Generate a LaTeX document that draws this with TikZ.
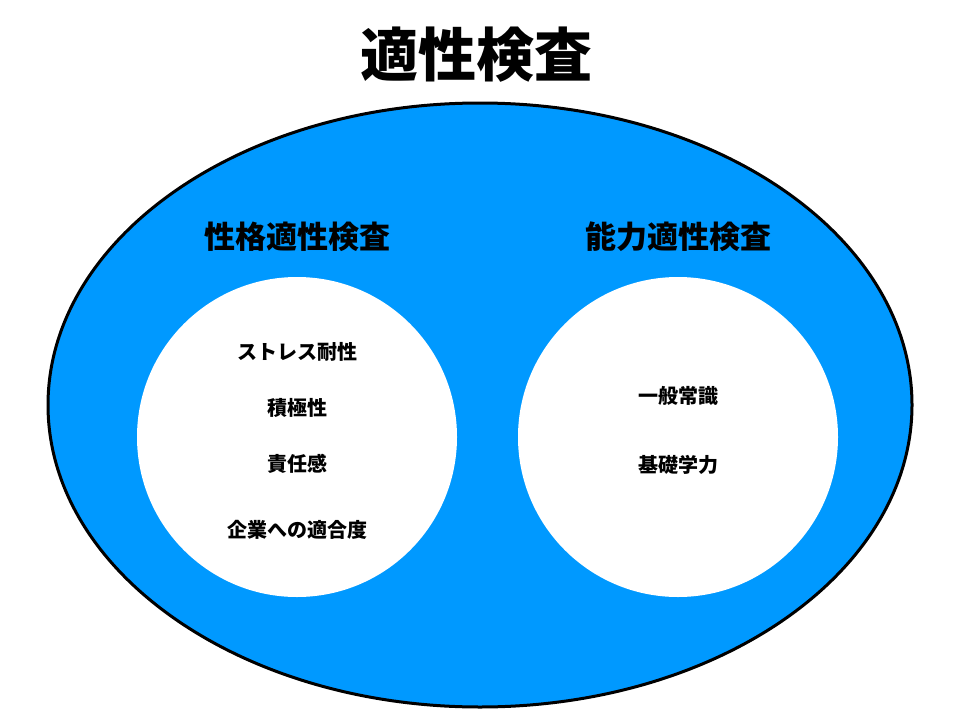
\documentclass[tikz,border=0pt]{standalone}
\usepackage{fontspec}
\newfontfamily\cjk{Noto Sans CJK JP}
\definecolor{bluefill}{HTML}{0099FF}
\begin{document}
\begin{tikzpicture}[x=1pt,y=-1pt,
  item/.style={font=\cjk\bfseries\fontsize{20}{24}\selectfont},
  head/.style={font=\cjk\bfseries\fontsize{31}{36}\selectfont},
  inner/.style={circle,fill=white,minimum size=320pt,inner sep=0pt}]
\useasboundingbox (0,0) rectangle (963,725);
\node (title) at (476,55) {\cjk\bfseries\fontsize{58}{64}\selectfont 適性検査};
\draw[line width=3pt,fill=bluefill] (480,405) ellipse [x radius=432, y radius=302];
\node[head] (lh) at (297,237) {性格適性検査};
\node[head] (rh) at (678,237) {能力適性検査};
\node[inner] (lc) at (297,437) {};
\node[inner] (rc) at (678,437) {};
\node[item] (l1) at (297,352) {ストレス耐性};
\node[item] (l2) at (297,408) {積極性};
\node[item] (l3) at (297,464) {責任感};
\node[item] (l4) at (297,530) {企業への適合度};
\node[item] (r1) at (678,396) {一般常識};
\node[item] (r2) at (678,465) {基礎学力};
\end{tikzpicture}
\end{document}
